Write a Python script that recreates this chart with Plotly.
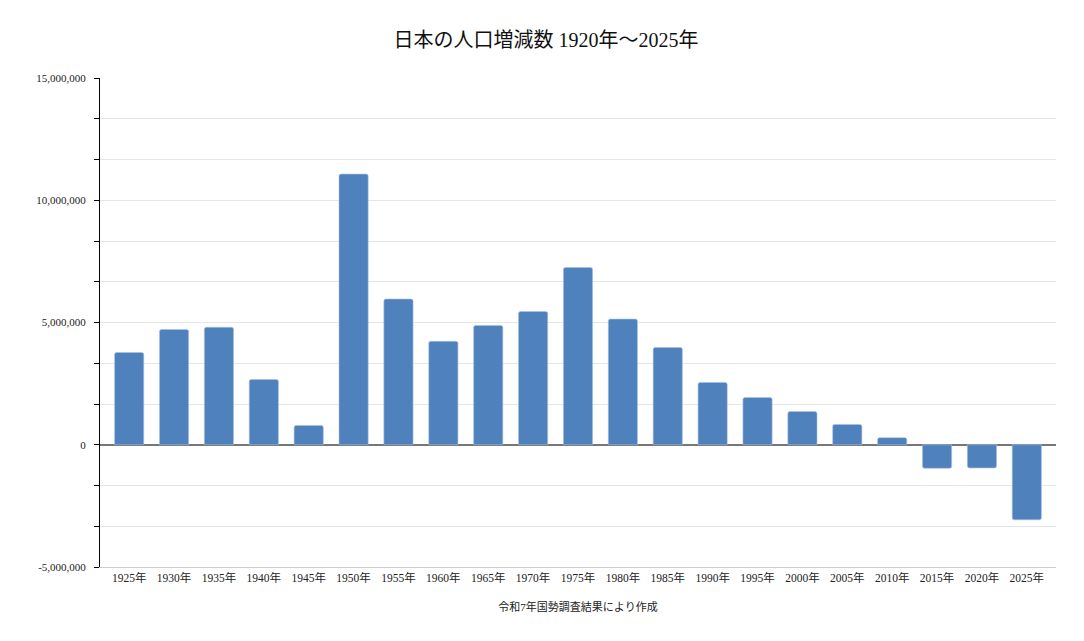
import plotly.graph_objects as go

# 国勢調査 5年ごとの人口増減数
years = ['1925年', '1930年', '1935年', '1940年', '1945年', '1950年', '1955年',
         '1960年', '1965年', '1970年', '1975年', '1980年', '1985年', '1990年',
         '1995年', '2000年', '2005年', '2010年', '2015年', '2020年', '2025年']
change = [3773769, 4713183, 4804143, 2670000, 790000, 11070000, 5960000,
          4230000, 4880000, 5450000, 7250000, 5140000, 3980000, 2550000,
          1930000, 1360000, 830000, 290000, -962607, -948646, -3070000]

y_tickvals = [-5000000, -3333333, -1666667, 0, 1666667, 3333333, 5000000,
              6666667, 8333333, 10000000, 11666667, 13333333, 15000000]
y_ticktext = ['-5,000,000', '', '', '0', '', '', '5,000,000',
              '', '', '10,000,000', '', '', '15,000,000']

font_family = 'Liberation Serif, Noto Sans CJK JP'

fig = go.Figure(go.Bar(
    x=years,
    y=change,
    marker=dict(color='#4f81bd', line=dict(color='#a9c1e0', width=0.6), cornerradius=2),
    width=0.65,
))

# the page has an 8px body margin, so the figure is a bit smaller than the window
fig.update_layout(
    width=1076, height=633,
    paper_bgcolor='white', plot_bgcolor='white',
    margin=dict(l=92, r=28, t=70, b=74),
    font=dict(family=font_family, size=11, color='#222'),
    title=dict(text='日本の人口増減数 1920年～2025年', x=0.5, xanchor='center',
               y=0.95, yanchor='middle', font=dict(size=20, color='#111')),
    showlegend=False,
)

fig.update_yaxes(
    range=[-5000000, 15000000],
    tickvals=y_tickvals, ticktext=y_ticktext,
    showline=True, linecolor='black', linewidth=1,
    ticks='outside', ticklen=5, tickcolor='black',
    ticklabelstandoff=6,
    gridcolor='#e6e6e6', gridwidth=1,
    zeroline=True, zerolinecolor='#777', zerolinewidth=1.5,
    tickfont=dict(size=11),
)

fig.update_xaxes(
    range=[-0.65, 20.65],
    showline=True, linecolor='#cccccc', linewidth=1,
    ticks='', tickfont=dict(size=11.5),
    title=dict(text='令和7年国勢調査結果により作成', font=dict(size=11), standoff=20),
)

fig.write_html("out.html")
